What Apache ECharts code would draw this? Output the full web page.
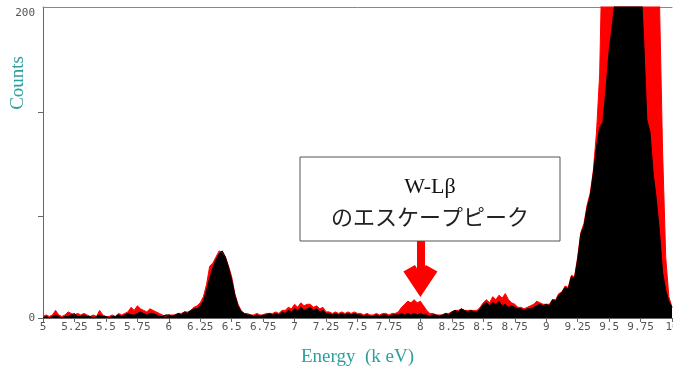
<!DOCTYPE html>
<html>
<head>
<meta charset="utf-8">
<script src="https://cdn.jsdelivr.net/npm/echarts@6/dist/echarts.min.js"></script>
<style>
  html, body { margin: 0; padding: 0; background: #fff; }
  #chart { width: 673px; height: 367px; }
</style>
</head>
<body>
<div id="chart"></div>
<script>
// energy grid of the spectrum (k eV)
const energyStart = 5;
const energyStep = 0.025;

// black spectrum, counts per channel, 5.000 .. 10.000 keV
const blackCounts = [
  0,1,0,1,2,1,0,1,1,2, 3,1,1,2,1,1,0,1,2,1, 1,0,1,1,2,1,2,3,2,2, 3,4,3,2,3,3,2,1,1,2,
  2,1,2,3,2,4,3,5,6,6, 8,11,18,26,33,38,42,44,40,33, 25,15,8,4,3,2,2,1,2,1, 2,2,3,2,3,2,4,3,5,4,
  6,5,7,5,6,7,5,6,4,5, 3,3,2,3,2,3,2,3,2,3, 2,2,1,2,1,1,2,1,2,2, 1,2,2,2,3,2,3,2,3,2,
  3,2,2,1,2,2,1,2,3,2, 4,5,4,6,5,4,5,4,4,6, 9,10,8,10,9,11,8,9,7,8, 7,6,6,5,6,6,7,8,9,8,
  9,8,12,11,15,17,20,19,27,26, 38,55,60,72,80,95,112,125,128,150, 175,192,210,240,260,280,290,280,270,250,
  225,182,130,122,95,78,57,30,18,11, 7
];

// red spectrum, counts per channel, 5.000 .. 10.000 keV
const redCounts = [
  1,2,1,2,5,2,1,2,4,3, 2,3,2,3,2,1,2,1,5,2, 1,1,2,1,3,2,3,4,7,5, 8,6,5,4,6,5,4,3,2,1,
  2,2,2,3,3,4,4,5,7,8, 10,14,22,34,36,40,44,43,40,34, 27,16,9,5,3,3,2,2,3,2, 2,3,3,3,4,3,5,5,7,6,
  9,7,10,8,9,9,7,8,6,7, 4,4,3,4,3,4,3,4,3,4, 3,3,2,3,2,2,3,2,3,3, 2,3,3,4,7,9,11,10,12,10,
  11,8,5,3,3,2,2,2,3,3, 4,5,5,6,5,5,5,5,5,7, 10,12,10,14,12,15,13,16,12,10, 9,7,7,6,7,8,9,11,10,9,
  9,9,12,12,16,17,21,20,28,27, 40,56,62,74,82,97,122,160,260,340, 400,450,480,500,520,520,510,500,480,450,
  420,380,340,300,270,240,210,110,40,14, 7
];

// axis ticks / labels
const yTickValues = [0, 67, 135];
const yLabelValues = [0, 200];
const yMax = 204;

// annotation: escape peak arrow (energy, counts from / to)
const arrowEnergy = 8.0;
const arrowFrom = 50.5;
const arrowTo = 24.3;

const toPairs = (arr) => arr.map((v, i) => [+(energyStart + i * energyStep).toFixed(3), v]);

const tickFont = { fontFamily: 'DejaVu Sans Mono', fontSize: 11, color: '#555' };
const teal = '#2f9e9e';

const chart = echarts.init(document.getElementById('chart'));
chart.setOption({
  animation: false,
  backgroundColor: '#fff',
  grid: { left: 43, right: 1, top: 7, bottom: 49, containLabel: false, outerBoundsMode: 'none' },
  xAxis: [
    {
      type: 'value',
      min: 5,
      max: 10,
      interval: 0.25,
      name: 'Energy  (k eV)',
      nameLocation: 'middle',
      nameGap: 30,
      nameTextStyle: { fontFamily: 'Liberation Serif', fontSize: 19, color: teal },
      axisLine: { lineStyle: { color: '#666', width: 1 } },
      axisTick: { length: 4, lineStyle: { color: '#666' } },
      axisLabel: Object.assign({ margin: 4, hideOverlap: false, showMaxLabel: true, showMinLabel: true }, tickFont),
      splitLine: { show: false }
    },
    {
      type: 'value',
      position: 'top',
      min: 5,
      max: 10,
      axisLine: { show: true, lineStyle: { color: '#888', width: 1 } },
      axisTick: { show: false },
      axisLabel: { show: false },
      splitLine: { show: false }
    }
  ],
  yAxis: {
    type: 'value',
    min: 0,
    max: yMax,
    axisLine: { show: true, lineStyle: { color: '#666', width: 1 } },
    axisTick: { show: true, length: 5, customValues: yTickValues, lineStyle: { color: '#666' } },
    axisLabel: Object.assign({ margin: 8, customValues: yLabelValues }, tickFont),
    splitLine: { show: false }
  },
  graphic: [
    {
      type: 'text',
      left: 9,
      top: 56,
      rotation: Math.PI / 2,
      style: { text: 'Counts', font: '19px "Liberation Serif"', fill: teal }
    },
    {
      type: 'rect',
      shape: { x: 300, y: 157, width: 260, height: 84 },
      style: { fill: '#fff', stroke: '#555', lineWidth: 1 },
      z: 10
    },
    {
      type: 'text',
      x: 430,
      y: 187,
      style: { text: 'W-Lβ', font: '22px "Liberation Serif"', fill: '#111', align: 'center', verticalAlign: 'middle' },
      z: 11
    },
    {
      type: 'text',
      x: 430,
      y: 217,
      style: { text: 'のエスケープピーク', font: '22px "Noto Sans CJK JP"', fill: '#222', align: 'center', verticalAlign: 'middle' },
      z: 11
    }
  ],
  series: [
    {
      name: 'red',
      type: 'line',
      data: toPairs(redCounts),
      showSymbol: false,
      clip: true,
      lineStyle: { color: '#ff0000', width: 1 },
      itemStyle: { color: '#ff0000' },
      areaStyle: { color: '#ff0000', opacity: 1 }
    },
    {
      name: 'black',
      type: 'line',
      data: toPairs(blackCounts),
      showSymbol: false,
      clip: true,
      lineStyle: { color: '#000', width: 1 },
      itemStyle: { color: '#000' },
      areaStyle: { color: '#000', opacity: 1 },
      markLine: {
        silent: true,
        symbol: ['none', 'path://M150,0 L290,220 L195,276 L150,200 L105,276 L10,220 Z'],
        symbolSize: [34, 32],
        label: { show: false },
        lineStyle: { color: '#ff0000', width: 8, type: 'solid' },
        itemStyle: { color: '#ff0000' },
        z: 12,
        data: [[{ coord: [arrowEnergy, arrowFrom] }, { coord: [arrowEnergy, arrowTo] }]]
      }
    }
  ]
});
</script>
</body>
</html>
